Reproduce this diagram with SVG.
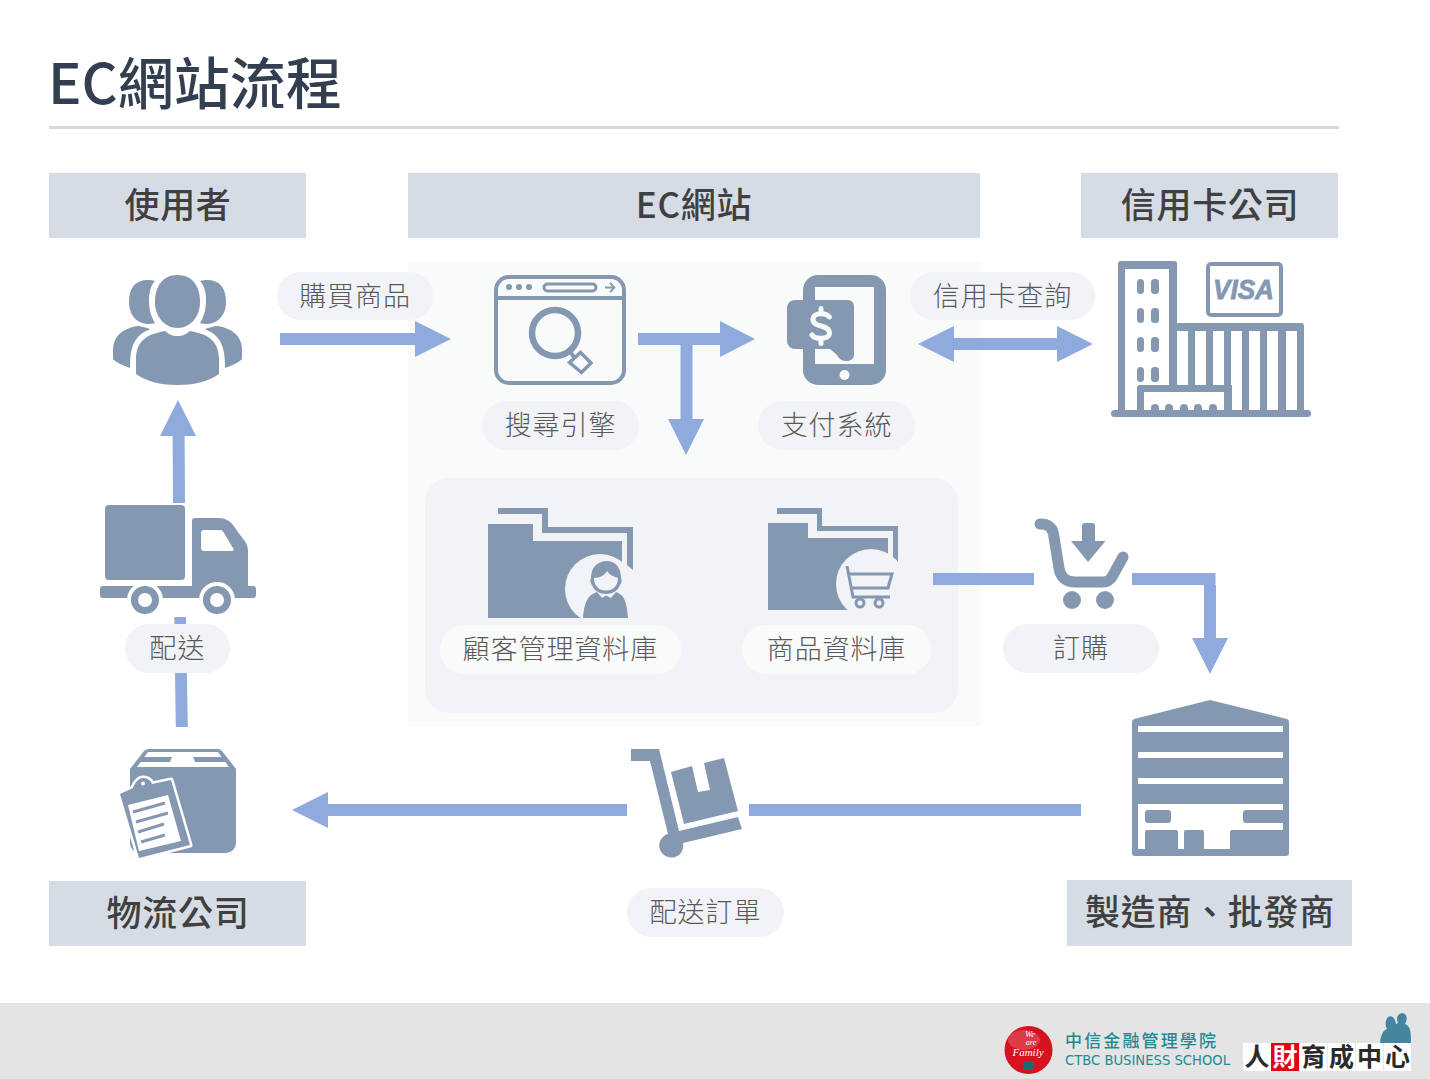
<svg xmlns="http://www.w3.org/2000/svg" width="1430" height="1079" viewBox="0 0 1430 1079">
<style>
text{font-family:"Noto Sans CJK TC","Noto Sans CJK SC",sans-serif}
.hd{fill:#d6dce5}
.ht{font-size:35px;font-weight:500;fill:#404040;text-anchor:middle;letter-spacing:.7px}
.pl{fill:#f2f3f7}
.pw{fill:#f9fbfb}
.lb{font-size:27px;font-weight:300;fill:#595959;text-anchor:middle;letter-spacing:.9px}
.ic{fill:#8498b2}
.ol{fill:none;stroke:#8498b2}
.ar{fill:#8faadc}
.h{fill:#fff}
.f{fill:#f2f3f7}
</style>
<rect width="1430" height="1079" fill="#fff"/>
<g id="title">
<text x="48" y="104" font-size="56" font-weight="500" fill="#333f50">EC網站流程</text>
<rect x="49" y="126" width="1290" height="3" fill="#d9d9d9"/>
</g>
<g id="panels">
<rect x="408" y="262" width="572" height="464" fill="#f9fbfb"/>
<rect x="425" y="478" width="533" height="235" rx="24" fill="#f2f3f7"/>
</g>
<g id="connectors">
<path class="ar" d="M280 333H415V321L451 339L415 357V345H280Z"/>
<path class="ar" d="M638 333H720V321L755 339L720 357V345H692.500V419H704L686 455L668 419H680.500V345H638Z"/>
<path class="ar" d="M918 344L954 326V338H1057V326L1093 344L1057 362V350H954V362Z"/>
<path class="ar" d="M178 400L196 436H184.600L185 503H173L172.600 436H160Z"/>
<path class="ar" d="M174.300 617H186L187.800 727H175.800Z"/>
<path class="ar" d="M292 810L328 792V804H627V816H328V828Z"/>
<rect class="ar" x="749" y="804" width="332" height="12"/>
<rect class="ar" x="933" y="573" width="101" height="12"/>
<path class="ar" d="M1132 573H1215.500V585H1216V638H1228L1210 674L1192 638H1204V585H1132Z"/>
</g>
<g id="h-user"><rect class="hd" x="49" y="173" width="257" height="65"/><text class="ht" x="178" y="218">使用者</text></g>
<g id="h-ec"><rect class="hd" x="408" y="173" width="572" height="65"/><text class="ht" x="694" y="218">EC網站</text></g>
<g id="h-card"><rect class="hd" x="1081" y="173" width="257" height="65"/><text class="ht" x="1210" y="218">信用卡公司</text></g>
<g id="h-logi"><rect class="hd" x="49" y="881" width="257" height="65"/><text class="ht" x="178" y="926">物流公司</text></g>
<g id="h-maker"><rect class="hd" x="1067" y="880" width="285" height="66"/><text class="ht" x="1210" y="925">製造商、批發商</text></g>

<g id="user-icon">
<path class="ic" d="M148 280C135 280 129 288 129 302C129 314 136 324 149 324C153 324 155 323 155 323C150 315 149 307 149 300C149 292 151 285 155 281C153 280 150 280 148 280Z"/>
<path class="ic" d="M207 280C220 280 226 288 226 302C226 314 219 324 206 324C202 324 200 323 200 323C205 315 206 307 206 300C206 292 204 285 200 281C202 280 205 280 207 280Z"/>
<path class="ic" d="M177.500 275C192 275 200 286 200 302C200 317 190 328 177.500 328C165 328 155 317 155 302C155 286 163 275 177.500 275Z"/>
<path class="ic" d="M137 326C122 329 114 336 113 348C113 352 113 357 113 359C118 364 125 366 130 368C130 355 131 343 140 335C143 332 149 330 150 329C146 328 142 326 137 326Z"/>
<path class="ic" d="M218 326C233 329 241 336 242 348C242 352 242 357 242 359C237 364 230 366 225 368C225 355 224 343 215 335C212 332 206 330 205 329C209 328 213 326 218 326Z"/>
<path class="ic" d="M165 331C170 335 172 336 177.500 336C183 336 185 335 190 331C205 334 218 338 219 358C219 364 219 370 219 374C208 382 193 385 177.500 385C162 385 147 382 136 374C136 370 136 364 136 358C137 338 150 334 165 331Z"/>
</g>
<g id="label-buy"><rect class="pl" x="277" y="272" width="156" height="48" rx="24"/><text class="lb" x="355" y="306">購買商品</text></g>

<g id="search-icon">
<rect class="ol" x="496" y="277" width="128" height="106" rx="13" stroke-width="4"/>
<path class="ol" d="M496 298H624" stroke-width="4"/>
<circle class="ic" cx="509" cy="287" r="3"/><circle class="ic" cx="519" cy="287" r="3"/><circle class="ic" cx="529" cy="287" r="3"/>
<rect class="ol" x="544" y="284" width="52" height="7" rx="3.500" stroke-width="3"/>
<path class="ol" d="M605 287.500H613M610 283L614.500 287.500L610 292" stroke-width="1.800"/>
<circle class="ol" cx="555" cy="333" r="23" stroke-width="6.500"/>
<path class="ol" d="M569.500 362.500L580.500 352.500L591 363L581.500 372.500Z" stroke-width="3.500"/>
<path class="ol" d="M571 353L574 357" stroke-width="4"/>
</g>
<g id="label-search"><rect class="pl" x="482" y="401" width="157" height="49" rx="24.500"/><text class="lb" x="560.500" y="435">搜尋引擎</text></g>

<g id="pay-icon">
<path class="ic" fill-rule="evenodd" d="M818 275H871A15 15 0 0 1 886 290V370A15 15 0 0 1 871 385H818A15 15 0 0 1 803 370V290A15 15 0 0 1 818 275ZM815 287V364H874V287Z"/>
<circle cx="844.500" cy="375" r="5" fill="#f9fbfb"/>
<path class="ic" d="M795 300H848A6 6 0 0 1 854 306V354C854 360 850 361 846 361C842 361 839 359 837 355L830 349H795A8 8 0 0 1 787 341V308A8 8 0 0 1 795 300Z"/>
<path d="M821 308.500V313M821 339V343.500M829.500 317C826 312.500 813 312 813 319.500C813 328 829.500 324 829.500 333C829.500 340 815 339.500 812 335" fill="none" stroke="#f9fbfb" stroke-width="5" stroke-linecap="round"/>
</g>
<g id="label-pay"><rect class="pl" x="758" y="401" width="157" height="49" rx="24.500"/><text class="lb" x="836.500" y="435">支付系統</text></g>

<g id="label-check"><rect class="pl" x="910" y="272" width="185" height="48" rx="24"/><text class="lb" x="1002.500" y="306">信用卡查詢</text></g>
<g id="bank-icon">
<path class="ic" fill-rule="evenodd" d="M1121 261H1174A3 3 0 0 1 1177 264V323H1301A3 3 0 0 1 1304 326V414H1297V331H1286V414H1278V331H1267V414H1260V331H1249V414H1242V331H1231V385H1224V331H1213V385H1206V331H1195V385H1188V331H1177V385H1169V269H1125V414H1118V264A3 3 0 0 1 1121 261Z"/>
<rect class="ic" x="1111" y="410" width="200" height="7" rx="3.500"/>
<path class="ic" d="M1140 385H1232V414H1224V392H1144V414H1137V388A3 3 0 0 1 1140 385Z"/>
<g class="ic"><rect x="1137" y="279" width="7" height="15" rx="3.500"/><rect x="1151" y="279" width="8" height="15" rx="3.500"/><rect x="1137" y="308" width="7" height="15" rx="3.500"/><rect x="1151" y="308" width="8" height="15" rx="3.500"/><rect x="1137" y="337" width="7" height="15" rx="3.500"/><rect x="1151" y="337" width="8" height="15" rx="3.500"/><rect x="1137" y="367" width="7" height="15" rx="3.500"/><rect x="1151" y="367" width="8" height="15" rx="3.500"/></g>
<path class="ic" d="M1151 414V408a4 4 0 0 1 8 0V414ZM1165 414V408a4 4 0 0 1 8 0V414ZM1180 414V408a4 4 0 0 1 8 0V414ZM1194 414V408a4 4 0 0 1 8 0V414ZM1209 414V408a4 4 0 0 1 8 0V414Z"/>
<rect class="ol" x="1208" y="264" width="73" height="51" rx="3" stroke-width="4"/>
<text x="1213" y="299" font-size="28" font-weight="700" font-style="italic" fill="#8498b2" stroke="#8498b2" stroke-width=".8" textLength="61" lengthAdjust="spacingAndGlyphs" style='font-family:"Liberation Sans",sans-serif'>VISA</text>
</g>

<g id="customer-db">
<path class="ic" d="M498 508H548V527H633V570L627 565V533H542V514H498Z"/>
<path class="ic" d="M488 524H533V541H622V618H488Z"/>
<circle class="f" cx="600" cy="589" r="35"/>
<rect class="f" x="565" y="618" width="75" height="10"/>
<path class="ic" d="M591 578C591 568 596 562 606 561C616 561 621 568 621 578C622 580 622 583 620 585C618 591 612 594 606 594C600 594 594 591 592 585C590 583 590 580 591 578Z"/>
<path class="f" d="M594 578C600 578 605 575 607 571C610 575 614 577 618 578C618 586 613 590.500 606 590.500C599 590.500 594 586 594 578Z"/>
<path class="ic" d="M583 618C584 604 587 595 597 592L602 598L606 595.500L611 598L616 592C625 595 627 604 628 618Z"/>
</g>
<g id="label-customer"><rect class="pw" x="440" y="625" width="241" height="49" rx="24.500"/><text class="lb" x="560.500" y="659">顧客管理資料庫</text></g>

<g id="product-db">
<path class="ic" d="M777 508H822V526H898V567L893 562V531H817V514H777Z"/>
<path class="ic" d="M768 523H808V538H888V610H768Z"/>
<circle class="f" cx="871" cy="584" r="35"/>
<rect class="f" x="836" y="610" width="70" height="10"/>
<path class="ol" d="M847 566L853 597H890M848 574H892L888 588H851" stroke-width="3"/>
<circle class="ol" cx="860" cy="603" r="4" stroke-width="3"/><circle class="ol" cx="879" cy="603" r="4" stroke-width="3"/>
</g>
<g id="label-product"><rect class="pw" x="742" y="625" width="189" height="49" rx="24.500"/><text class="lb" x="836.500" y="659">商品資料庫</text></g>

<g id="order-icon">
<path class="ol" d="M1040 524C1048 524 1053 527 1054 537L1059 568C1060 577 1066 582 1075 582H1103C1107 582 1110 580 1112 577L1123 557" stroke-width="11" stroke-linecap="round"/>
<circle class="ic" cx="1072" cy="600" r="9"/><circle class="ic" cx="1105" cy="600" r="9"/>
<path class="ic" d="M1085 523H1092A3 3 0 0 1 1095 526V541H1105.500L1088 562L1071 541H1082V526A3 3 0 0 1 1085 523Z"/>
</g>
<g id="label-order"><rect class="pl" x="1003" y="624" width="156" height="49" rx="24.500"/><text class="lb" x="1081" y="658">訂購</text></g>

<g id="factory-icon">
<path class="ic" d="M1210 700L1287 719Q1289 720 1289 722V853Q1289 856 1286 856H1135Q1132 856 1132 853V722Q1132 720 1134 719Z"/>
<rect class="h" x="1138" y="726" width="145" height="6"/><rect class="h" x="1138" y="752" width="145" height="6"/><rect class="h" x="1138" y="778" width="145" height="6"/>
<path class="h" d="M1138 804H1283V849H1138Z"/>
<rect class="ic" x="1145" y="810" width="26" height="13" rx="3"/>
<path class="ic" d="M1246 810H1283V823H1246A3 3 0 0 1 1243 820V813A3 3 0 0 1 1246 810Z"/>
<path class="ic" d="M1147 830H1176A2 2 0 0 1 1178 832V849H1145V832A2 2 0 0 1 1147 830ZM1186 830H1202A2 2 0 0 1 1204 832V849H1184V832A2 2 0 0 1 1186 830ZM1232 830H1283V849H1230V832A2 2 0 0 1 1232 830Z"/>
</g>

<g id="cart-icon">
<path class="ic" d="M631 749H659L679 831L738 817L742 829L683 843A12 12 0 1 1 668 834L650 761H631Z"/>
<path class="ic" d="M671 772L692 766L698 792L710 790L704 763L724 758L738 811L684 824Z"/>
</g>
<g id="label-ship-order"><rect class="pl" x="627" y="888" width="157" height="49" rx="24.500"/><text class="lb" x="705.500" y="922">配送訂單</text></g>

<g id="truck-icon">
<rect class="ic" x="105" y="505" width="80" height="75" rx="4"/>
<path class="ic" fill-rule="evenodd" d="M195 518H219C225 518 230 521 233 525L246 543C247 545 248 548 248 551V586H253A3 3 0 0 1 256 589V595A3 3 0 0 1 253 598H103A3 3 0 0 1 100 595V589A3 3 0 0 1 103 586H192V521A3 3 0 0 1 195 518ZM204 530A3 3 0 0 0 201 533V548A3 3 0 0 0 204 551H232C234 551 234 549 233 548L224 533C223 531 222 530 220 530Z"/>
<circle class="h" cx="145" cy="600" r="18"/><circle class="h" cx="217" cy="600" r="18"/>
<circle class="ol" cx="145" cy="600" r="10.500" stroke-width="7"/><circle class="ol" cx="217" cy="600" r="10.500" stroke-width="7"/>
</g>
<g id="label-ship"><rect class="pl" x="125" y="624" width="105" height="49" rx="24.500"/><text class="lb" x="177.500" y="658">配送</text></g>

<g id="box-icon">
<path class="ic" d="M149 749H218Q220 749 222 751L236 769V843A10 10 0 0 1 226 853H140A10 10 0 0 1 130 843V769L144 751Q146 749 149 749Z"/>
<path class="h" d="M148 752H218L229 767H137Z"/>
<path class="ic" d="M143 757H172L170 762H139ZM193 757H222L226 762H195Z"/>
<g fill="#8498b2" stroke="#fff" stroke-width="5" stroke-linejoin="round" paint-order="stroke">
<path d="M120 794L133 788C135 782 139 778 143 778C148 778 151 781 152 784L171 780L190 845L139 858Z"/>
</g>
<path class="h" d="M128 805L168 795L181 841L139 851Z"/>
<path d="M133 788L157 784.500L159 790L135 795Z" fill="#8498b2"/>
<circle class="h" cx="143" cy="783.500" r="2"/>
<path class="ol" d="M133 812L165 803M136 822L168 813M138 832L164 824M141 842L165 835" stroke-width="3"/>
</g>

<g id="footer">
<rect y="1003" width="1430" height="76" fill="#e4e4e4"/>
<g id="logo-family">
<circle cx="1028.500" cy="1050" r="24" fill="#d5121e"/>
<ellipse cx="1024" cy="1040" rx="16" ry="10" fill="#fff" opacity=".18"/>
<text x="1030" y="1037" font-size="8.500" font-style="italic" fill="#fff" text-anchor="middle" style='font-family:"Liberation Serif",serif'>We</text>
<text x="1031" y="1045" font-size="8" font-style="italic" fill="#fff" text-anchor="middle" style='font-family:"Liberation Serif",serif'>are</text>
<text x="1028" y="1056" font-size="11" font-style="italic" fill="#fff" text-anchor="middle" style='font-family:"Liberation Serif",serif'>Family</text>
<rect x="1023" y="1061" width="11" height="9" fill="#1d6b68"/>
<text x="1065" y="1047" font-size="17" font-weight="500" fill="#1f8a94" textLength="151" lengthAdjust="spacing">中信金融管理學院</text>
<text x="1065" y="1065" font-size="14" fill="#1f8a94" textLength="165" lengthAdjust="spacingAndGlyphs" style='font-family:"DejaVu Sans",sans-serif'>CTBC BUSINESS SCHOOL</text>
</g>
<g id="logo-hr">
<path d="M1380 1043C1381 1033 1384 1030 1387 1029C1385 1026 1385 1020 1388 1017C1391 1015 1395 1017 1396 1024L1398 1023C1396 1019 1397 1014 1402 1013C1407 1013 1408 1019 1405 1024C1411 1026 1411 1034 1411 1043Z" fill="#44869f"/>
<rect x="1243" y="1043" width="168" height="28" fill="#fff"/>
<rect x="1271" y="1043" width="28" height="28" fill="#e60012"/>
<path d="M1299.500 1043V1071M1327.500 1043V1071M1355.500 1043V1071M1383.500 1043V1071" stroke="#e6eaee" stroke-width="1"/>
<g font-size="25" font-weight="700" text-anchor="middle" fill="#2b2b2b">
<text x="1257" y="1066">人</text><text x="1285" y="1066" fill="#fff">財</text><text x="1313.500" y="1066">育</text><text x="1341.500" y="1066">成</text><text x="1369.500" y="1066">中</text><text x="1397.500" y="1066">心</text>
</g>
</g>
</g>
</svg>
